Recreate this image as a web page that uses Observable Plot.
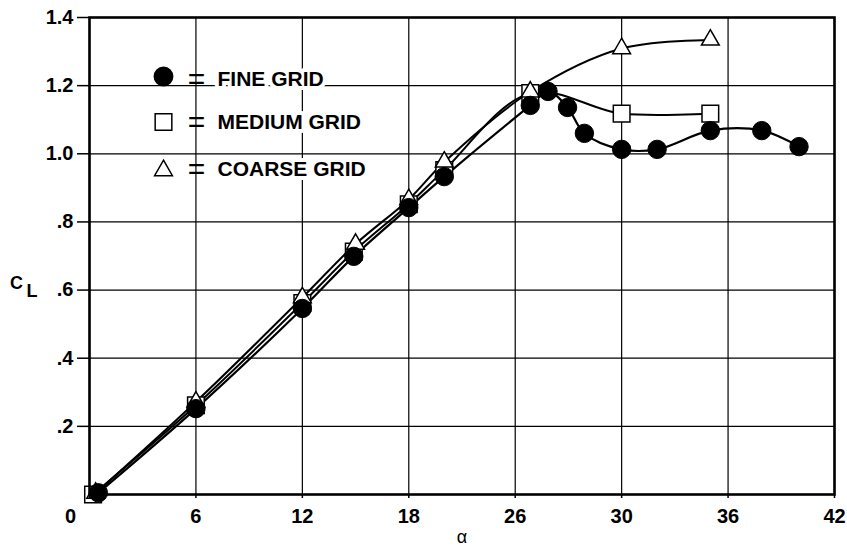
<!DOCTYPE html>
<html><head><meta charset="utf-8">
<script src="https://cdn.jsdelivr.net/npm/d3@7"></script>
<script src="https://cdn.jsdelivr.net/npm/@observablehq/plot@0.6"></script>
<style>
body{margin:0;background:#fff}
#chart svg{font-family:"Liberation Sans",Arial,Helvetica,sans-serif;background:#fff}
</style>
</head><body><div id="chart"></div>
<script>
// ---- data ----
const fineAlpha   = [0.5, 6, 12, 14.9, 18, 20, 24.85, 25.85, 26.95, 27.9, 30, 32, 35, 37.9, 40];
const fineCL      = [0.005, 0.252, 0.546, 0.699, 0.842, 0.933, 1.142, 1.183, 1.136, 1.06, 1.013, 1.013, 1.068, 1.068, 1.021];
const mediumAlpha = [0.2, 6, 12, 14.9, 18, 20, 24.85, 30, 35];
const mediumCL    = [0.0, 0.262, 0.562, 0.713, 0.852, 0.952, 1.178, 1.118, 1.118];
const coarseAlpha = [0.35, 6, 12, 15, 18, 20, 24.85, 30, 35];
const coarseCL    = [0.004, 0.272, 0.578, 0.735, 0.866, 0.976, 1.182, 1.309, 1.334];

const xTicks      = [0, 6, 12, 18, 24, 30, 36, 42];
const xTickLabels = ["0", "6", "12", "18", "26", "30", "36", "42"];
const yTicks      = [0, 0.2, 0.4, 0.6, 0.8, 1.0, 1.2, 1.4];
const yTickLabels = ["0", ".2", ".4", ".6", ".8", "1.0", "1.2", "1.4"];

const legendLabels  = ["FINE GRID", "MEDIUM GRID", "COARSE GRID"];
const legendSymbols = ["circle", "square", "triangle"];

// ---- build tables ----
const fine   = fineAlpha.map((a, i) => ({a, cl: fineCL[i]}));
const medium = mediumAlpha.map((a, i) => ({a, cl: mediumCL[i]}));
const coarse = coarseAlpha.map((a, i) => ({a, cl: coarseCL[i]}));
const legend = legendLabels.map((label, i) => ({label, symbol: legendSymbols[i], i}));

const FONT = "Liberation Sans, Arial, Helvetica, sans-serif";
const legendDy = [59, 104.5, 153];
const legendTextDy = [62, 105, 152];
const symR = {circle: 9.2, square: 9.4, triangle: 6.6};

const chart = Plot.plot({
  width: 847,
  height: 549,
  marginLeft: 89,
  marginRight: 13,
  marginTop: 17,
  marginBottom: 55,
  style: {fontFamily: FONT, background: "#fff", overflow: "visible"},
  x: {domain: [0, 42], ticks: xTicks},
  y: {domain: [0, 1.4], ticks: yTicks},
  marks: [
    Plot.gridX(xTicks, {stroke: "#000", strokeOpacity: 1, strokeWidth: 1.2}),
    Plot.gridY(yTicks, {stroke: "#000", strokeOpacity: 1, strokeWidth: 1.2}),
    // curves
    Plot.line(coarse, {x: "a", y: "cl", curve: "catmull-rom", stroke: "#000", strokeWidth: 2}),
    Plot.line(medium, {x: "a", y: "cl", curve: "catmull-rom", stroke: "#000", strokeWidth: 2}),
    Plot.line(fine,   {x: "a", y: "cl", curve: "catmull-rom", stroke: "#000", strokeWidth: 2.2}),
    // markers
    Plot.dot(medium, {x: "a", y: "cl", symbol: "square", r: symR.square, fill: "#fff", stroke: "#000", strokeWidth: 1.5}),
    Plot.dot(coarse, {x: "a", y: "cl", symbol: "triangle", r: symR.triangle, fill: "#fff", stroke: "#000", strokeWidth: 1.5}),
    Plot.dot(fine,   {x: "a", y: "cl", symbol: "circle", r: symR.circle, fill: "#000", stroke: "#000", strokeWidth: 1}),
    Plot.frame({stroke: "#000", strokeWidth: 2.6}),
    // axes
    Plot.axisX(xTicks, {
      tickSize: 4, tickPadding: 10, stroke: "#000", strokeWidth: 1.5,
      tickFormat: (d) => d === 0 ? "" : xTickLabels[xTicks.indexOf(d)],
      fontSize: 20, fontWeight: "bold", fill: "#000", label: null
    }),
    Plot.text([0], {x: (d) => xTicks[0], y: (d) => yTicks[0], text: () => xTickLabels[0],
      dx: -19, dy: 22, fontSize: 20, fontWeight: "bold", fill: "#000", lineAnchor: "middle"}),
    Plot.axisY(yTicks.slice(1), {
      tickSize: 12, tickPadding: 4, stroke: "#000", strokeWidth: 1.5,
      tickFormat: (d) => yTickLabels[yTicks.indexOf(d)],
      fontSize: 20, fontWeight: "bold", fill: "#000", label: null
    }),
    // axis titles
    Plot.text(["C"], {frameAnchor: "left", dx: -73, dy: 27.5, fontSize: 18, fontWeight: "bold", fill: "#000", textAnchor: "middle"}),
    Plot.text(["L"], {frameAnchor: "left", dx: -57.5, dy: 35, fontSize: 18, fontWeight: "bold", fill: "#000", textAnchor: "middle"}),
    Plot.text(["\u03b1"], {frameAnchor: "bottom", dy: 43, fontSize: 18, fill: "#000", textAnchor: "middle", lineAnchor: "middle"}),
    // legend
    ...legend.map((d) => Plot.dot([d], {
      frameAnchor: "top-left", dx: 74, dy: legendDy[d.i], symbol: d.symbol, r: symR[d.symbol],
      fill: d.symbol === "circle" ? "#000" : "#fff", stroke: "#000", strokeWidth: 1.5
    })),
    ...legend.map((d) => Plot.text([d], {
      frameAnchor: "top-left", dx: 107, dy: legendTextDy[d.i], text: () => "=",
      fontSize: 30, fill: "#000", textAnchor: "middle", lineAnchor: "middle"
    })),
    ...legend.map((d) => Plot.text([d], {
      frameAnchor: "top-left", dx: 128, dy: legendTextDy[d.i], text: "label",
      fontSize: 21, fontWeight: "bold", fill: "#000", stroke: "#fff", strokeWidth: 8,
      textAnchor: "start", lineAnchor: "middle"
    }))
  ]
});
document.getElementById("chart").appendChild(chart);
</script>
</body></html>
